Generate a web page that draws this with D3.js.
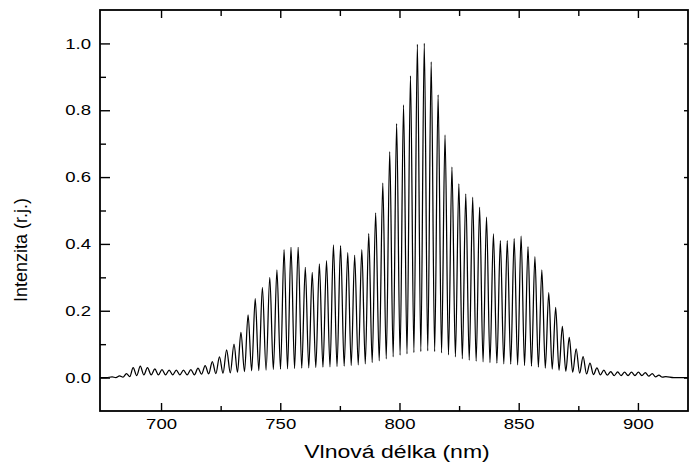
<!DOCTYPE html>
<html>
<head>
<meta charset="utf-8">
<script src="https://cdn.jsdelivr.net/npm/d3@7"></script>
<style>
  body { margin: 0; background: #fff; }
  svg { display: block; }
  text { font-family: "Liberation Sans", Arial, sans-serif; fill: #000; }
</style>
</head>
<body>
<svg id="chart" width="691" height="468"></svg>
<script>
// Fringe maxima: wavelength (nm) and normalised intensity
const peakWavelengths = [
  679.5, 682.6, 685.5, 688.3, 691.3, 694.3, 697.4, 700.4, 703.4, 706.4,
  709.4, 712.5, 715.5, 718.5, 721.5, 724.5, 727.5, 730.6, 733.5, 736.5,
  739.5, 742.5, 745.6, 748.6, 751.6, 754.5, 757.5, 760.5, 763.4, 766.4,
  769.4, 772.3, 775.3, 778.3, 781.2, 784.2, 787.1, 790.0, 793.0, 795.9,
  798.8, 801.7, 804.6, 807.5, 810.4, 813.3, 816.2, 819.1, 822.0, 824.9,
  827.8, 830.7, 833.6, 836.5, 839.4, 842.3, 845.2, 848.1, 851.0, 853.9,
  856.8, 859.7, 862.6, 865.5, 868.3, 871.2, 874.1, 877.0, 879.9, 882.8,
  885.7, 888.6, 891.5, 894.4, 897.3, 900.2, 903.1, 906.0, 908.8, 911.7
];
const peakIntensities = [
  0.002, 0.005, 0.012, 0.030, 0.034, 0.030, 0.026, 0.024, 0.022, 0.022,
  0.022, 0.024, 0.028, 0.036, 0.048, 0.062, 0.083, 0.100, 0.135, 0.188,
  0.236, 0.270, 0.300, 0.322, 0.383, 0.390, 0.390, 0.330, 0.315, 0.340,
  0.350, 0.397, 0.395, 0.374, 0.366, 0.383, 0.431, 0.493, 0.582, 0.676,
  0.760, 0.816, 0.903, 0.997, 1.000, 0.945, 0.846, 0.726, 0.630, 0.580,
  0.550, 0.540, 0.510, 0.480, 0.430, 0.410, 0.410, 0.416, 0.423, 0.392,
  0.362, 0.322, 0.254, 0.210, 0.153, 0.120, 0.086, 0.063, 0.043, 0.029,
  0.022, 0.018, 0.017, 0.016, 0.016, 0.016, 0.015, 0.012, 0.007, 0.003
];
// Fringe minima, one between each pair of neighbouring maxima
const troughIntensities = [
  0.000, 0.001, 0.003, 0.006, 0.008, 0.008, 0.008, 0.008, 0.008, 0.008,
  0.008, 0.008, 0.010, 0.011, 0.012, 0.013, 0.014, 0.016, 0.018, 0.020,
  0.021, 0.022, 0.024, 0.025, 0.026, 0.027, 0.028, 0.029, 0.030, 0.031,
  0.032, 0.033, 0.034, 0.036, 0.038, 0.041, 0.045, 0.050, 0.056, 0.062,
  0.067, 0.071, 0.075, 0.078, 0.080, 0.078, 0.074, 0.068, 0.062, 0.056,
  0.052, 0.049, 0.047, 0.045, 0.043, 0.041, 0.040, 0.038, 0.036, 0.034,
  0.031, 0.028, 0.025, 0.022, 0.019, 0.016, 0.013, 0.011, 0.009, 0.008,
  0.007, 0.006, 0.006, 0.006, 0.006, 0.006, 0.004, 0.002, 0.001
];
// Flat baseline at both ends of the measured range
const baselineStart = [[674.5, 0], [677.0, 0]];
const baselineEnd = [[915.0, 0], [921.0, 0]];

const xDomain = [674.4, 921.0];
const yDomain = [-0.1, 1.1];
const xMajorTicks = [700, 750, 800, 850, 900];
const xMinorTicks = [725, 775, 825, 875];
const yMajorTicks = [0.0, 0.2, 0.4, 0.6, 0.8, 1.0];
const yMinorTicks = [0.1, 0.3, 0.5, 0.7, 0.9];
const xTitle = "Vlnová délka (nm)";
const yTitle = "Intenzita (r.j.)";

const W = 691, H = 468;
const m = { left: 100, right: 3, top: 10, bottom: 57 };
const textStretch = 1.28;   // wide lettering used throughout the figure
const svg = d3.select("#chart");

const x = d3.scaleLinear().domain(xDomain).range([m.left, W - m.right]);
const y = d3.scaleLinear().domain(yDomain).range([H - m.bottom, m.top]);

// Assemble the spectrum: baseline, alternating maxima/minima, baseline
const spectrum = [...baselineStart];
peakWavelengths.forEach((wl, i) => {
  spectrum.push([wl, peakIntensities[i]]);
  if (i < troughIntensities.length) {
    spectrum.push([(wl + peakWavelengths[i + 1]) / 2, troughIntensities[i]]);
  }
});
spectrum.push(...baselineEnd);

const line = d3.line()
  .x(d => x(d[0]))
  .y(d => y(d[1]))
  .curve(d3.curveMonotoneX);

svg.append("path")
  .datum(spectrum)
  .attr("d", line)
  .attr("fill", "none")
  .attr("stroke", "#000")
  .attr("stroke-width", 1.25)
  .attr("stroke-linejoin", "round");

const fmt = d3.format(".1f");

function styleAxis(g) {
  g.select(".domain").remove();
  g.selectAll(".tick line").attr("stroke", "#000").attr("stroke-width", 1.4);
  g.selectAll(".tick text").attr("font-size", 14.5);
}

// Bottom axis (ticks point into the plot)
const bottom = svg.append("g")
  .attr("transform", `translate(0,${H - m.bottom})`)
  .call(d3.axisBottom(x).tickValues(xMajorTicks).tickSizeInner(-8).tickSizeOuter(0).tickPadding(8).tickFormat(d3.format("d")))
  .call(styleAxis);
bottom.selectAll(".tick text").attr("transform", `scale(${textStretch},1)`);
svg.append("g")
  .attr("transform", `translate(0,${H - m.bottom})`)
  .call(d3.axisBottom(x).tickValues(xMinorTicks).tickSizeInner(-5).tickSizeOuter(0).tickFormat(""))
  .call(styleAxis);

// Top axis
svg.append("g")
  .attr("transform", `translate(0,${m.top})`)
  .call(d3.axisTop(x).tickValues(xMajorTicks).tickSizeInner(-8).tickSizeOuter(0).tickFormat(""))
  .call(styleAxis);
svg.append("g")
  .attr("transform", `translate(0,${m.top})`)
  .call(d3.axisTop(x).tickValues(xMinorTicks).tickSizeInner(-6).tickSizeOuter(0).tickFormat(""))
  .call(styleAxis);

// Left axis
const left = svg.append("g")
  .attr("transform", `translate(${m.left},0)`)
  .call(d3.axisLeft(y).tickValues(yMajorTicks).tickSizeInner(-10).tickSizeOuter(0).tickFormat(fmt))
  .call(styleAxis);
left.selectAll(".tick text")
  .attr("x", 0)
  .attr("transform", `translate(-9,0) scale(${textStretch},1)`);
svg.append("g")
  .attr("transform", `translate(${m.left},0)`)
  .call(d3.axisLeft(y).tickValues(yMinorTicks).tickSizeInner(-6).tickSizeOuter(0).tickFormat(""))
  .call(styleAxis);

// Right axis: short major ticks only
svg.append("g")
  .attr("transform", `translate(${W - m.right},0)`)
  .call(d3.axisRight(y).tickValues(yMajorTicks).tickSizeInner(-4).tickSizeOuter(0).tickFormat(""))
  .call(styleAxis);

// Plot frame
svg.append("rect")
  .attr("x", m.left).attr("y", m.top)
  .attr("width", W - m.left - m.right).attr("height", H - m.top - m.bottom)
  .attr("fill", "none").attr("stroke", "#000").attr("stroke-width", 1.8);

// Axis titles
svg.append("text")
  .attr("transform", `translate(${(m.left + W - m.right) / 2 + 3},458) scale(${textStretch},1)`)
  .attr("text-anchor", "middle")
  .attr("font-size", 18)
  .text(xTitle);

svg.append("text")
  .attr("transform", `translate(27,250) rotate(-90)`)
  .attr("text-anchor", "middle")
  .attr("font-size", 18)
  .text(yTitle);
</script>
</body>
</html>
